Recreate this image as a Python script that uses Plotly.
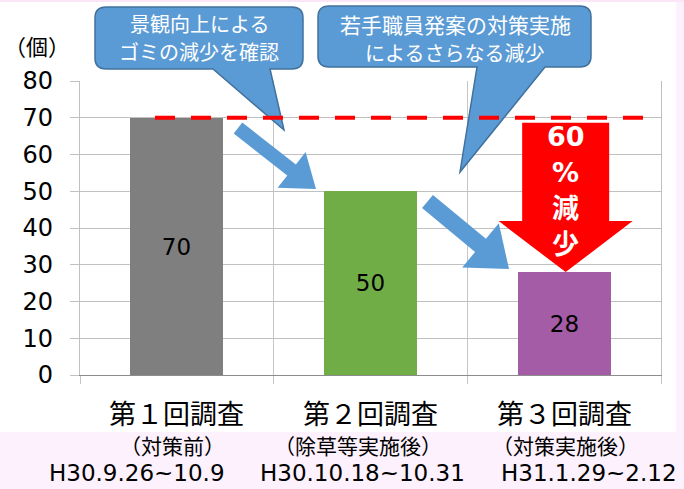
import math
import plotly.graph_objects as go

# ---------------- data ----------------
categories = ["第１回調査", "第２回調査", "第３回調査"]
subtitles = ["（対策前）", "（除草等実施後）", "（対策実施後）"]
periods = ["H30.9.26~10.9", "H30.10.18~10.31", "H31.1.29~2.12"]
counts = [70, 50, 28]
bar_colors = ["#7f7f7f", "#70ad47", "#a55ca7"]
y_ticks = [0, 10, 20, 30, 40, 50, 60, 70, 80]
unit_label = "（個）"
callout1_lines = ["景観向上による", "ゴミの減少を確認"]
callout2_lines = ["若手職員発案の対策実施", "によるさらなる減少"]

reduction_pct = round((counts[0] - counts[-1]) / counts[0] * 100)

# ---------------- geometry helpers ----------------
W, H = 684, 489
ML, MR, MT, MB = 80, 23, 81, 114
PW, PH = W - ML - MR, H - MT - MB
Y_MAX = 80
CJK = "Noto Sans CJK JP"
NUM = "DejaVu Sans, Noto Sans CJK JP"


def fx(x):
    return (x - ML) / PW


def fy(y):
    return (H - MB - y) / PH


def ypix(v):
    return (H - MB) - v / Y_MAX * PH


def xpix(i):
    return ML + (i + 0.5) / 3 * PW


def pt(x, y):
    return f"{fx(x):.5f},{fy(y):.5f}"


def poly(points):
    return "M " + " L ".join(pt(x, y) for x, y in points) + " Z"


def callout(x0, y0, x1, y1, r, bx0, bx1, tx, ty):
    return (f"M {pt(x0 + r, y0)} L {pt(x1 - r, y0)} Q {pt(x1, y0)} {pt(x1, y0 + r)} "
            f"L {pt(x1, y1 - r)} Q {pt(x1, y1)} {pt(x1 - r, y1)} L {pt(bx1, y1)} "
            f"L {pt(tx, ty)} L {pt(bx0, y1)} L {pt(x0 + r, y1)} Q {pt(x0, y1)} {pt(x0, y1 - r)} "
            f"L {pt(x0, y0 + r)} Q {pt(x0, y0)} {pt(x0 + r, y0)} Z")


def block_arrow(T, P, sw, hl, hw):
    dx, dy = P[0] - T[0], P[1] - T[1]
    ln = math.hypot(dx, dy)
    ux, uy = dx / ln, dy / ln
    nx, ny = -uy, ux
    bx, by = P[0] - ux * hl, P[1] - uy * hl
    pts = [
        (T[0] + nx * sw, T[1] + ny * sw),
        (bx + nx * sw, by + ny * sw),
        (bx + nx * hw, by + ny * hw),
        P,
        (bx - nx * hw, by - ny * hw),
        (bx - nx * sw, by - ny * sw),
        (T[0] - nx * sw, T[1] - ny * sw),
    ]
    return poly(pts)


BLUE = "#5b9bd5"
BLUE_EDGE = "#41719c"
PINK = "#fcf1fc"

fig = go.Figure()
fig.add_trace(go.Bar(
    x=[0, 1, 2], y=counts, width=0.48,
    marker=dict(color=bar_colors, line=dict(width=0)),
    text=[str(c) for c in counts], textposition="inside",
    insidetextanchor="middle", textangle=0,
    textfont=dict(size=23, color="black", family=NUM),
    hoverinfo="skip",
))

shapes = []
# page background pink areas
shapes.append(dict(type="rect", xref="paper", yref="paper", x0=fx(0), x1=fx(W), y0=fy(H), y1=fy(432),
                   fillcolor=PINK, line=dict(width=0), layer="below"))
shapes.append(dict(type="rect", xref="paper", yref="paper", x0=fx(676), x1=fx(W), y0=fy(H), y1=fy(0),
                   fillcolor=PINK, line=dict(width=0), layer="below"))
shapes.append(dict(type="rect", xref="paper", yref="paper", x0=fx(0), x1=fx(W), y0=fy(2), y1=fy(0),
                   fillcolor="#fae6f7", line=dict(width=0), layer="below"))

# callouts
shapes.append(dict(type="path", xref="paper", yref="paper",
                   path=callout(95, 7, 303, 69, 11, 213, 270, 284, 130),
                   fillcolor=BLUE, line=dict(color=BLUE_EDGE, width=1.5), layer="above"))
shapes.append(dict(type="path", xref="paper", yref="paper",
                   path=callout(318, 6, 591, 67, 11, 477, 545, 460, 172),
                   fillcolor=BLUE, line=dict(color=BLUE_EDGE, width=1.5), layer="above"))

# dashed reference line at first survey level
shapes.append(dict(type="line", xref="paper", yref="y", x0=fx(155), x1=fx(645),
                   y0=counts[0], y1=counts[0],
                   line=dict(color="#ff0000", width=4, dash="20px,16px"), layer="above"))

# red reduction arrow from first level down to last bar
cx = xpix(2) + 1.5
top = ypix(counts[0]) + 5
tip = ypix(counts[-1])
head_y = tip - 51
shapes.append(dict(type="path", xref="paper", yref="paper",
                   path=poly([(cx - 43.5, top), (cx + 43.5, top), (cx + 43.5, head_y),
                              (cx + 67, head_y), (cx, tip), (cx - 67, head_y), (cx - 43.5, head_y)]),
                   fillcolor="#ff0000", line=dict(width=0), layer="above"))

# blue trend arrows
shapes.append(dict(type="path", xref="paper", yref="paper",
                   path=block_arrow((238, 128), (316, 189), 7, 31, 22.7),
                   fillcolor=BLUE, line=dict(width=0), layer="above"))
shapes.append(dict(type="path", xref="paper", yref="paper",
                   path=block_arrow((427.5, 201.5), (509, 269), 8.5, 37, 28.7),
                   fillcolor=BLUE, line=dict(width=0), layer="above"))

annotations = []


def add_text(text, x, y, size, family=CJK, color="black", xanchor="center", xref="paper", bold=False):
    annotations.append(dict(
        text=f"<b>{text}</b>" if bold else text,
        x=x if xref != "paper" else fx(x), y=fy(y), xref=xref, yref="paper",
        xanchor=xanchor, yanchor="middle", showarrow=False,
        font=dict(size=size, family=family, color=color),
    ))


add_text(unit_label, 2, 45, 22, xanchor="left")
add_text(callout1_lines[0], 199, 23.5, 20, color="white")
add_text(callout1_lines[1], 199, 51.5, 20, color="white")
add_text(callout2_lines[0], 455, 24.5, 21, color="white")
add_text(callout2_lines[1], 454, 52, 20, color="white")

# reduction label inside red arrow
red_lines = [str(reduction_pct), "%", "減", "少"]
for k, s in enumerate(red_lines):
    add_text(s, cx, 136 + 36 * k, 27, family=NUM, color="white", bold=True)

# x category labels
sub_x = [172, 358, 565]
per_x = [47, 258, 499]
for i in range(3):
    add_text(categories[i], i, 412, 27, xref="x")
    add_text(subtitles[i], sub_x[i], 445, 21)
    add_text(periods[i], per_x[i], 473, 23, family=NUM, xanchor="left")

fig.update_layout(
    width=W, height=H,
    margin=dict(l=ML, r=MR, t=MT, b=MB, pad=0),
    paper_bgcolor="white", plot_bgcolor="white",
    showlegend=False,
    font=dict(family=NUM, color="black"),
    bargap=0,
    shapes=shapes, annotations=annotations,
    xaxis=dict(range=[-0.5, 2.5], tickvals=[-0.5, 0.5, 1.5, 2.5], showticklabels=False,
               showgrid=True, gridcolor="#c6c6c6", gridwidth=1.2,
               ticks="outside", ticklen=8, tickcolor="#c6c6c6", tickwidth=1.2,
               showline=True, linecolor="#8c8c8c", linewidth=1.2, zeroline=False, fixedrange=True),
    yaxis=dict(range=[0, Y_MAX], tickvals=y_ticks, ticktext=[str(v) for v in y_ticks],
               showgrid=True, gridcolor="#c0c0c0", gridwidth=1.2,
               ticks="outside", ticklen=9, tickcolor="#c0c0c0", tickwidth=1.2,
               tickfont=dict(size=24, family=NUM, color="black"), ticklabelstandoff=12,
               showline=True, linecolor="#c0c0c0", linewidth=1.2, mirror=True,
               zeroline=False, fixedrange=True),
)

fig.write_html("out.html", config={"displayModeBar": False},
               post_script="document.body.style.margin='0';document.body.style.overflow='hidden';")
